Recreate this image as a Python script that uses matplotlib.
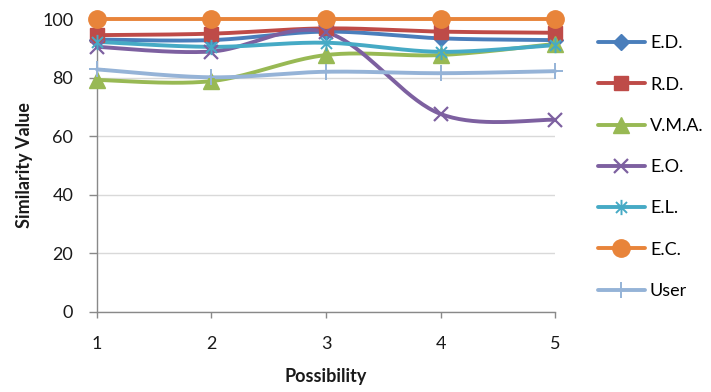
import numpy as np
import matplotlib
matplotlib.use("Agg")
import matplotlib.pyplot as plt
from matplotlib.path import Path

plt.rcParams['font.family'] = ['Lato', 'DejaVu Sans']

possibility = [1, 2, 3, 4, 5]
series_names = ["E.D.", "R.D.", "V.M.A.", "E.O.", "E.L.", "E.C.", "User"]
ed = [93.0, 92.8, 95.7, 93.4, 92.8]
rd = [94.5, 95.0, 96.8, 95.7, 95.3]
vma = [79.2, 78.8, 87.7, 87.7, 91.5]
eo = [90.5, 88.9, 95.5, 67.6, 65.6]
el = [92.2, 90.5, 91.9, 88.8, 91.1]
ec = [100.0, 100.0, 100.0, 100.0, 100.0]
user = [82.8, 80.1, 82.0, 81.5, 82.2]
y_ticks = [0, 20, 40, 60, 80, 100]

colors = ["#4A7EBB", "#BE4B48", "#98B954", "#7D60A0", "#46AAC5", "#E8843A", "#95B3D7"]

asterisk = Path([(0, -1), (0, 1), (-0.72, -0.72), (0.72, 0.72), (-0.72, 0.72), (0.72, -0.72)],
                [Path.MOVETO, Path.LINETO, Path.MOVETO, Path.LINETO, Path.MOVETO, Path.LINETO])
styles = [
    dict(marker="D", ms=8.5),
    dict(marker="s", ms=10),
    dict(marker="^", ms=11),
    dict(marker="x", ms=10, mew=1.6),
    dict(marker=asterisk, ms=11, mew=1.4),
    dict(marker="o", ms=12.5),
    dict(marker="+", ms=12, mew=1.4),
]


def smooth(xs, ys, n=40):
    """Catmull-Rom style Bezier curve through the points."""
    xs = np.asarray(xs, float)
    ys = np.asarray(ys, float)
    px = np.concatenate([[xs[0]], xs, [xs[-1]]])
    py = np.concatenate([[ys[0]], ys, [ys[-1]]])
    outx, outy = [], []
    t = np.linspace(0, 1, n)
    for i in range(1, len(px) - 2):
        p0x, p1x, p2x, p3x = px[i - 1:i + 3]
        p0y, p1y, p2y, p3y = py[i - 1:i + 3]
        c1x = p1x + (p2x - p0x) / 6
        c1y = p1y + (p2y - p0y) / 6
        c2x = p2x - (p3x - p1x) / 6
        c2y = p2y - (p3y - p1y) / 6
        bx = (1 - t) ** 3 * p1x + 3 * (1 - t) ** 2 * t * c1x + 3 * (1 - t) * t ** 2 * c2x + t ** 3 * p2x
        by = (1 - t) ** 3 * p1y + 3 * (1 - t) ** 2 * t * c1y + 3 * (1 - t) * t ** 2 * c2y + t ** 3 * p2y
        outx.extend(bx)
        outy.extend(by)
    return np.array(outx), np.array(outy)


fig = plt.figure(figsize=(7.11, 3.92), dpi=100)
ax = fig.add_axes([0.1364, 0.2041, 0.6442, 0.7474])

all_series = [ed, rd, vma, eo, el, ec, user]
handles = []
for name, vals, col, st in zip(series_names, all_series, colors, styles):
    sx, sy = smooth(possibility, vals)
    ax.plot(sx, sy, color=col, lw=2.8, solid_capstyle="round", clip_on=False, zorder=3)
    mk = dict(st)
    ms = mk.pop("ms")
    mew = mk.pop("mew", 1.0)
    ax.plot(possibility, vals, linestyle="none", color=col, ms=ms, mew=mew,
            mec=col, mfc=col, clip_on=False, zorder=4, **mk)
    h, = ax.plot([], [], color=col, lw=2.8, ms=ms, mew=mew, mec=col, mfc=col,
                 solid_capstyle="round", **mk)
    handles.append(h)

ax.set_xlim(1, 5)
ax.set_ylim(0, 100)
ax.set_xticks(possibility)
ax.set_yticks(y_ticks)
ax.grid(axis="y", color="#D9D9D9", lw=1.0)
ax.set_axisbelow(True)
for s in ["top", "right"]:
    ax.spines[s].set_visible(False)
for s in ["left", "bottom"]:
    ax.spines[s].set_color("#898989")
    ax.spines[s].set_linewidth(1.0)
ax.tick_params(axis="both", colors="#898989", width=1.0,
               labelsize=13, labelcolor="#1a1a1a")
ax.tick_params(axis="x", length=4.5, pad=13)
ax.tick_params(axis="y", length=6, pad=11)
ax.set_xlabel("Possibility", fontsize=13, fontweight="bold", color="#1a1a1a", labelpad=11)
ax.set_ylabel("Similarity Value", fontsize=13, fontweight="bold", color="#1a1a1a", labelpad=7)

fig.legend(handles, series_names, loc="upper left", bbox_to_anchor=(0.841, 0.91),
           frameon=False, fontsize=13, handlelength=2.6, handletextpad=0.28,
           labelspacing=1.4, borderpad=0, borderaxespad=0)

fig.savefig("out.png", dpi=100)
